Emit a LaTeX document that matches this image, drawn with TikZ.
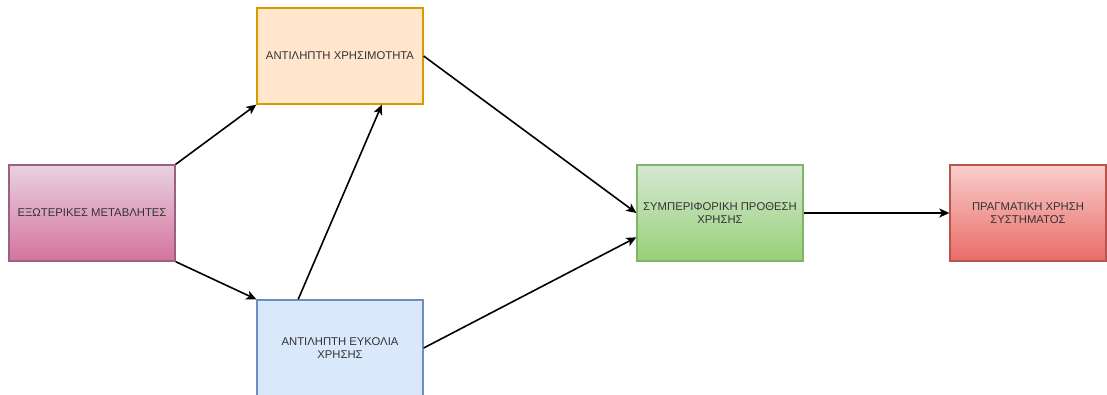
\documentclass[tikz,border=0pt]{standalone}
\usepackage{fontspec}
\setmainfont{Liberation Sans}
\usetikzlibrary{arrows.meta,calc}

\definecolor{pinkTop}{HTML}{E8D2E0}
\definecolor{pinkBot}{HTML}{D5739D}
\definecolor{pinkLine}{HTML}{996185}
\definecolor{orangeFill}{HTML}{FFE6CC}
\definecolor{orangeLine}{HTML}{D79B00}
\definecolor{blueFill}{HTML}{DAE8FC}
\definecolor{blueLine}{HTML}{6C8EBF}
\definecolor{greenTop}{HTML}{D5E8D4}
\definecolor{greenBot}{HTML}{97D077}
\definecolor{greenLine}{HTML}{82B366}
\definecolor{redTop}{HTML}{F8CECC}
\definecolor{redBot}{HTML}{EA6B66}
\definecolor{redLine}{HTML}{B85450}
\definecolor{txt}{HTML}{333333}

\tikzset{
  box/.style={rectangle, minimum width=166pt, minimum height=96pt,
    line width=1.3pt, align=center, text=txt, inner sep=2pt,
    font=\fontsize{11.3}{13.4}\selectfont},
  link/.style={draw=black, line width=1.6pt,
    -{Stealth[length=10pt,width=9pt,inset=2.5pt]}},
}

\begin{document}
\begin{tikzpicture}[x=1pt,y=-1pt]
  \useasboundingbox (0,0) rectangle (1107,394);
  \begin{scope}
    \clip (0,0) rectangle (1107,394);

    \node[box, draw=pinkLine, top color=pinkTop, bottom color=pinkBot]
      (ext) at (92,213) {ΕΞΩΤΕΡΙΚΕΣ ΜΕΤΑΒΛΗΤΕΣ};
    \node[box, draw=orangeLine, fill=orangeFill]
      (use) at (340,56) {ΑΝΤΙΛΗΠΤΗ ΧΡΗΣΙΜΟΤΗΤΑ};
    \node[box, draw=blueLine, fill=blueFill]
      (ease) at (340,348) {ΑΝΤΙΛΗΠΤΗ ΕΥΚΟΛΙΑ\\ΧΡΗΣΗΣ};
    \node[box, draw=greenLine, top color=greenTop, bottom color=greenBot]
      (intent) at (720,213) {ΣΥΜΠΕΡΙΦΟΡΙΚΗ ΠΡΟΘΕΣΗ\\ΧΡΗΣΗΣ};
    \node[box, minimum width=156pt, draw=redLine, top color=redTop, bottom color=redBot]
      (actual) at (1028,213) {ΠΡΑΓΜΑΤΙΚΗ ΧΡΗΣΗ\\ΣΥΣΤΗΜΑΤΟΣ};

    \draw[link] (ext.north east) -- (use.south west);
    \draw[link] (ext.south east) -- (ease.north west);
    \draw[link] ($(ease.north west)!0.25!(ease.north east)$)
             -- ($(use.south west)!0.75!(use.south east)$);
    \draw[link] (use.east) -- (intent.west);
    \draw[link] (ease.east) -- ($(intent.north west)!0.75!(intent.south west)$);
    \draw[link] (intent.east) -- (actual.west);
  \end{scope}
\end{tikzpicture}
\end{document}
